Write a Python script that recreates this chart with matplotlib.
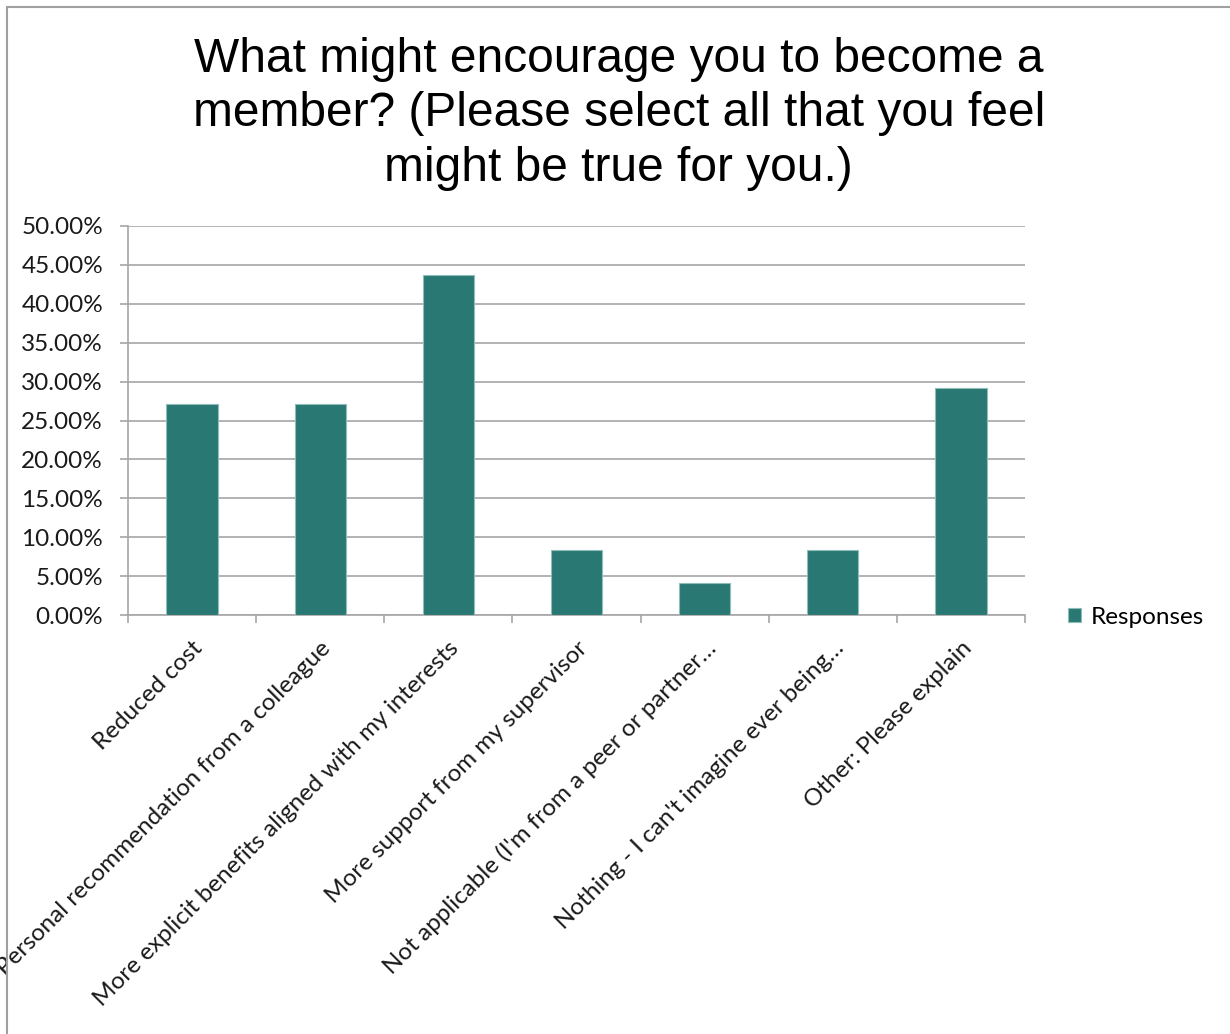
import matplotlib
matplotlib.use("Agg")
import matplotlib.pyplot as plt
from matplotlib.patches import Rectangle
from matplotlib.ticker import FuncFormatter, MultipleLocator

categories = [
    "Reduced cost",
    "Personal recommendation from a colleague",
    "More explicit benefits aligned with my interests",
    "More support from my supervisor",
    "Not applicable (I'm from a peer or partner\u2026",
    "Nothing - I can't imagine ever being\u2026",
    "Other: Please explain",
]
responses = [27.08, 27.08, 43.75, 8.33, 4.17, 8.33, 29.17]
series_name = "Responses"
title = "What might encourage you to become a\nmember? (Please select all that you feel\nmight be true for you.)"

bar_color = "#2A7873"
grid_color = "#A6A6A6"
label_font = ["Lato", "DejaVu Sans"]
title_font = ["Liberation Sans", "DejaVu Sans"]
label_size = 17.5

W, H = 1230, 1034
fig = plt.figure(figsize=(W / 100, H / 100), dpi=100)

# chart frame
fig.patches.append(Rectangle((7 / W, -0.1), 1.2, (H - 7) / H + 0.1,
                             transform=fig.transFigure, fill=False,
                             edgecolor="#A0A0A0", linewidth=1.5))

ax = fig.add_axes([128 / W, 1 - 615 / H, (1025 - 128) / W, (615 - 226) / H])
x = list(range(len(categories)))
ax.bar(x, responses, width=0.4, color=bar_color, edgecolor="#8FBDB8",
       linewidth=0.8, zorder=3, label=series_name)

ax.set_xlim(-0.5, len(categories) - 0.5)
ax.set_ylim(0, 50)
ax.yaxis.set_major_locator(MultipleLocator(5))
ax.yaxis.set_major_formatter(FuncFormatter(lambda v, p: f"{v:.2f}%"))
ax.grid(axis="y", color=grid_color, linewidth=1.2, zorder=0)
ax.set_axisbelow(True)

for s in ["top", "right"]:
    ax.spines[s].set_visible(False)
for s in ["left", "bottom"]:
    ax.spines[s].set_color(grid_color)
    ax.spines[s].set_linewidth(1.2)

ax.tick_params(axis="y", direction="out", length=6, color=grid_color,
               width=1.2, pad=12)
for t in ax.get_yticklabels():
    t.set_fontfamily(label_font)
    t.set_fontsize(label_size)
    t.set_color("#1A1A1A")

# category boundary ticks on the x axis
ax.set_xticks([i - 0.5 for i in range(len(categories) + 1)])
ax.set_xticklabels([])
ax.tick_params(axis="x", direction="out", length=6, color=grid_color, width=1.2)
ax.set_xticks(x, minor=True)
ax.set_xticklabels(categories, minor=True, rotation=45, ha="right",
                   va="top", rotation_mode="anchor",
                   fontfamily=label_font, fontsize=label_size, color="#1A1A1A")
ax.tick_params(axis="x", which="minor", length=0, pad=16)

fig.text(0.503, 1 - 37 / H, title, ha="center", va="top",
         fontfamily=title_font, fontsize=34.5, linespacing=1.27, color="black")

leg = fig.legend(loc="center left", bbox_to_anchor=(1046 / W, 1 - 617 / H),
                 frameon=False, handlelength=0.55, handleheight=0.55,
                 handletextpad=0.4, prop={"family": label_font, "size": label_size})

fig.savefig("out.png", dpi=100)
